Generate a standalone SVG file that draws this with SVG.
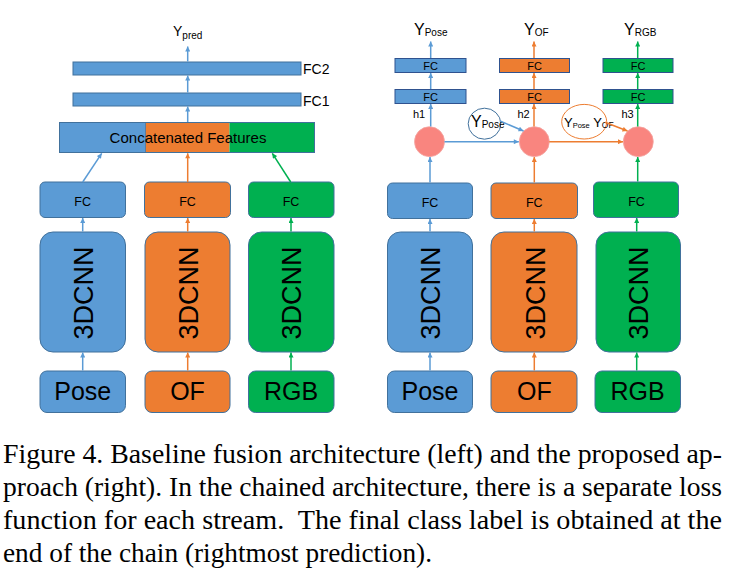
<svg xmlns="http://www.w3.org/2000/svg" width="732" height="580" viewBox="0 0 732 580">
<style>
.b{fill:#5B9BD5}
.o{fill:#ED7D31}
.g{fill:#00B050}
.bx{stroke:#41719C;stroke-width:1}
.t{font-family:"Liberation Sans",Arial,sans-serif;fill:#000}
.cap{font-family:"Liberation Serif","Times New Roman",serif;font-size:27px;fill:#000}
.ab{stroke:#5B9BD5;stroke-width:1.5;fill:none;marker-end:url(#mb)}
.ao{stroke:#ED7D31;stroke-width:1.5;fill:none;marker-end:url(#mo)}
.ag{stroke:#00B050;stroke-width:1.5;fill:none;marker-end:url(#mg)}
.circ{fill:#F9857F;stroke:#F4A6A2;stroke-width:0.8}
</style>
<defs>
<marker id="mb" viewBox="0 0 6 6" refX="6" refY="3" markerWidth="6" markerHeight="5" markerUnits="userSpaceOnUse" orient="auto"><path d="M0,0 L6,3 L0,6 z" fill="#5B9BD5"/></marker>
<marker id="mo" viewBox="0 0 6 6" refX="6" refY="3" markerWidth="6" markerHeight="5" markerUnits="userSpaceOnUse" orient="auto"><path d="M0,0 L6,3 L0,6 z" fill="#ED7D31"/></marker>
<marker id="mg" viewBox="0 0 6 6" refX="6" refY="3" markerWidth="6" markerHeight="5" markerUnits="userSpaceOnUse" orient="auto"><path d="M0,0 L6,3 L0,6 z" fill="#00B050"/></marker>
</defs>

<!-- LEFT: baseline fusion -->
<g id="l-ypred"><text class="t" x="173" y="36" font-size="14">Y<tspan font-size="10" dy="3">pred</tspan></text></g>
<g id="l-fc2"><rect class="b bx" x="73" y="62" width="228" height="13"/><text class="t" x="303" y="74" font-size="14">FC2</text></g>
<g id="l-fc1"><rect class="b bx" x="73" y="93" width="228" height="13"/><text class="t" x="303" y="105.5" font-size="14">FC1</text></g>
<g id="l-concat">
<rect class="b" x="59.5" y="122.5" width="86" height="30"/>
<rect class="o" x="145.5" y="122.5" width="84" height="30"/>
<rect class="g" x="229.5" y="122.5" width="85" height="30"/>
<rect x="59.5" y="122.5" width="255" height="30" fill="none" stroke="#41719C"/>
<line x1="145.5" y1="122.5" x2="145.5" y2="152.5" stroke="#41719C" stroke-width="0.8"/>
<text class="t" x="188" y="143" font-size="15" text-anchor="middle">Concatenated Features</text>
</g>
<g id="l-fc-pose"><rect class="b bx" x="40" y="182" width="85.5" height="35.5" rx="5"/><text class="t" x="82.7" y="206" font-size="12.5" text-anchor="middle">FC</text></g>
<g id="l-fc-of"><rect class="o bx" x="144.5" y="182" width="86" height="35.5" rx="5"/><text class="t" x="187.5" y="206" font-size="12.5" text-anchor="middle">FC</text></g>
<g id="l-fc-rgb"><rect class="g bx" x="248.5" y="182" width="85.5" height="35.5" rx="5"/><text class="t" x="291" y="206" font-size="12.5" text-anchor="middle">FC</text></g>
<g id="l-cnn-pose"><rect class="b bx" x="40" y="232" width="85.5" height="120" rx="13"/><text class="t" font-size="27" text-anchor="middle" transform="translate(93,293) rotate(-90)">3DCNN</text></g>
<g id="l-cnn-of"><rect class="o bx" x="145" y="232" width="85" height="120" rx="13"/><text class="t" font-size="27" text-anchor="middle" transform="translate(197.5,293) rotate(-90)">3DCNN</text></g>
<g id="l-cnn-rgb"><rect class="g bx" x="248.5" y="232" width="85.5" height="120" rx="13"/><text class="t" font-size="27" text-anchor="middle" transform="translate(301,293) rotate(-90)">3DCNN</text></g>
<g id="l-in-pose"><rect class="b bx" x="40" y="371" width="85.5" height="41.5" rx="7"/><text class="t" x="82.7" y="399.5" font-size="25" text-anchor="middle">Pose</text></g>
<g id="l-in-of"><rect class="o bx" x="145" y="371" width="85" height="41.5" rx="7"/><text class="t" x="187.5" y="399.5" font-size="25" text-anchor="middle">OF</text></g>
<g id="l-in-rgb"><rect class="g bx" x="248.5" y="371" width="85.5" height="41.5" rx="7"/><text class="t" x="291" y="399.5" font-size="25" text-anchor="middle">RGB</text></g>

<!-- RIGHT: chained -->
<g id="r-ypose"><text class="t" x="414" y="35" font-size="16">Y<tspan font-size="10" dy="1">Pose</tspan></text></g>
<g id="r-yof"><text class="t" x="524" y="35" font-size="16">Y<tspan font-size="10" dy="1">OF</tspan></text></g>
<g id="r-yrgb"><text class="t" x="624" y="35" font-size="16">Y<tspan font-size="10" dy="1">RGB</tspan></text></g>
<g id="r-fcb2"><rect class="b" x="395" y="58.5" width="71" height="14" stroke="#2F528F"/><text class="t" x="430.5" y="70" font-size="11" text-anchor="middle">FC</text></g>
<g id="r-fcb1"><rect class="b" x="395" y="89.5" width="71" height="14" stroke="#2F528F"/><text class="t" x="430.5" y="101" font-size="11" text-anchor="middle">FC</text></g>
<g id="r-fco2"><rect class="o" x="499.5" y="58.5" width="70" height="14" stroke="#2F528F"/><text class="t" x="534.5" y="70" font-size="11" text-anchor="middle">FC</text></g>
<g id="r-fco1"><rect class="o" x="499.5" y="89.5" width="70" height="14" stroke="#2F528F"/><text class="t" x="534.5" y="101" font-size="11" text-anchor="middle">FC</text></g>
<g id="r-fcg2"><rect class="g" x="603" y="58.5" width="70" height="14" stroke="#2F528F"/><text class="t" x="638" y="70" font-size="11" text-anchor="middle">FC</text></g>
<g id="r-fcg1"><rect class="g" x="603" y="89.5" width="70" height="14" stroke="#2F528F"/><text class="t" x="638" y="101" font-size="11" text-anchor="middle">FC</text></g>
<g id="r-h1"><text class="t" x="413" y="118" font-size="11">h1</text></g>
<g id="r-h2"><text class="t" x="517.5" y="118" font-size="11">h2</text></g>
<g id="r-h3"><text class="t" x="621.5" y="118" font-size="11">h3</text></g>
<g id="r-c1"><circle class="circ" cx="429.5" cy="141.7" r="15"/></g>
<g id="r-c2"><circle class="circ" cx="534.3" cy="141.7" r="15"/></g>
<g id="r-c3"><circle class="circ" cx="638.3" cy="141.7" r="15"/></g>
<g id="r-e1"><ellipse cx="484.5" cy="123.7" rx="16.3" ry="15.5" fill="#fff" stroke="#41719C" stroke-width="1"/><text class="t" x="471" y="127" font-size="16">Y<tspan font-size="10" dy="1">Pose</tspan></text></g>
<g id="r-e2"><ellipse cx="584.2" cy="121.7" rx="22.5" ry="17.3" fill="#fff" stroke="#ED7D31" stroke-width="1"/><text class="t" x="564" y="126.5" font-size="13">Y<tspan font-size="7.5" dy="1">Pose</tspan><tspan font-size="13" dy="-1"> Y</tspan><tspan font-size="8.5" dy="1">OF</tspan></text></g>
<g id="r-fc-pose"><rect class="b bx" x="387.5" y="183" width="85" height="35.5" rx="5"/><text class="t" x="430" y="207" font-size="12.5" text-anchor="middle">FC</text></g>
<g id="r-fc-of"><rect class="o bx" x="491" y="183" width="86.5" height="35.5" rx="5"/><text class="t" x="534.3" y="207" font-size="12.5" text-anchor="middle">FC</text></g>
<g id="r-fc-rgb"><rect class="g bx" x="593.5" y="182" width="85" height="35.5" rx="5"/><text class="t" x="636.5" y="206" font-size="12.5" text-anchor="middle">FC</text></g>
<g id="r-cnn-pose"><rect class="b bx" x="387.5" y="232" width="85" height="120" rx="13"/><text class="t" font-size="27" text-anchor="middle" transform="translate(440,293) rotate(-90)">3DCNN</text></g>
<g id="r-cnn-of"><rect class="o bx" x="491" y="232" width="86" height="120" rx="13"/><text class="t" font-size="27" text-anchor="middle" transform="translate(544.5,293) rotate(-90)">3DCNN</text></g>
<g id="r-cnn-rgb"><rect class="g bx" x="596" y="232" width="84.5" height="120" rx="13"/><text class="t" font-size="27" text-anchor="middle" transform="translate(648,293) rotate(-90)">3DCNN</text></g>
<g id="r-in-pose"><rect class="b bx" x="387.5" y="371" width="85" height="41.5" rx="7"/><text class="t" x="430" y="399.5" font-size="25" text-anchor="middle">Pose</text></g>
<g id="r-in-of"><rect class="o bx" x="491" y="371" width="86" height="41.5" rx="7"/><text class="t" x="534.3" y="399.5" font-size="25" text-anchor="middle">OF</text></g>
<g id="r-in-rgb"><rect class="g bx" x="595" y="371" width="85.5" height="41.5" rx="7"/><text class="t" x="637.5" y="399.5" font-size="25" text-anchor="middle">RGB</text></g>

<g id="connectors">
<!-- left -->
<line class="ab" x1="82.7" y1="370.5" x2="82.7" y2="352.5"/>
<line class="ao" x1="187.7" y1="370.5" x2="187.7" y2="352.5"/>
<line class="ag" x1="291" y1="370.5" x2="291" y2="352.5"/>
<line class="ab" x1="82.7" y1="231.5" x2="82.7" y2="218"/>
<line class="ao" x1="187.7" y1="231.5" x2="187.7" y2="218"/>
<line class="ag" x1="291" y1="231.5" x2="291" y2="218"/>
<line class="ab" x1="82.7" y1="182" x2="101.7" y2="153.3"/>
<line class="ao" x1="187.7" y1="182" x2="187.7" y2="153.3"/>
<line class="ag" x1="290.7" y1="182" x2="272.3" y2="153.3"/>
<line class="ab" x1="187.7" y1="122" x2="187.7" y2="106.5"/>
<line class="ab" x1="187.7" y1="92.5" x2="187.7" y2="75.5"/>
<line class="ab" x1="187.7" y1="61.5" x2="187.7" y2="46.5"/>
<!-- right -->
<line class="ab" x1="430" y1="370.5" x2="430" y2="352.5"/>
<line class="ao" x1="534.3" y1="370.5" x2="534.3" y2="352.5"/>
<line class="ag" x1="636.7" y1="370.5" x2="636.7" y2="352.5"/>
<line class="ab" x1="430" y1="231.5" x2="430" y2="219"/>
<line class="ao" x1="534.3" y1="231.5" x2="534.3" y2="219"/>
<line class="ag" x1="636.7" y1="231.5" x2="636.7" y2="218"/>
<line class="ab" x1="430" y1="182.5" x2="430" y2="157"/>
<line class="ao" x1="534.3" y1="182.5" x2="534.3" y2="157"/>
<line class="ag" x1="637.7" y1="181.5" x2="637.7" y2="157"/>
<line class="ab" x1="444.5" y1="141.7" x2="518.8" y2="141.7"/>
<line class="ao" x1="549.3" y1="141.7" x2="623" y2="141.7"/>
<line class="ab" x1="500" y1="121" x2="523.5" y2="131" stroke-width="2.2"/>
<line class="ao" x1="605" y1="122.3" x2="627.5" y2="131" stroke-width="2.2"/>
<line class="ab" x1="430.7" y1="126.5" x2="430.7" y2="104"/>
<line class="ao" x1="534" y1="126.5" x2="534" y2="104"/>
<line class="ag" x1="637.7" y1="126.5" x2="637.7" y2="104"/>
<line class="ab" x1="430.7" y1="89" x2="430.7" y2="73"/>
<line class="ao" x1="534" y1="89" x2="534" y2="73"/>
<line class="ag" x1="637.7" y1="89" x2="637.7" y2="73"/>
<line class="ab" x1="430.7" y1="58" x2="430.7" y2="41.5"/>
<line class="ao" x1="534" y1="58" x2="534" y2="41.5"/>
<line class="ag" x1="637.7" y1="58" x2="637.7" y2="41.5"/>
</g>

<g id="caption">
<text class="cap" x="3" y="463" textLength="719" lengthAdjust="spacingAndGlyphs">Figure 4. Baseline fusion architecture (left) and the proposed ap-</text>
<text class="cap" x="3" y="496" textLength="719" lengthAdjust="spacingAndGlyphs">proach (right). In the chained architecture, there is a separate loss</text>
<text class="cap" x="3" y="529" textLength="719" lengthAdjust="spacingAndGlyphs" xml:space="preserve">function for each stream.  The final class label is obtained at the</text>
<text class="cap" x="3" y="562" textLength="429" lengthAdjust="spacingAndGlyphs">end of the chain (rightmost prediction).</text>
</g>
</svg>
